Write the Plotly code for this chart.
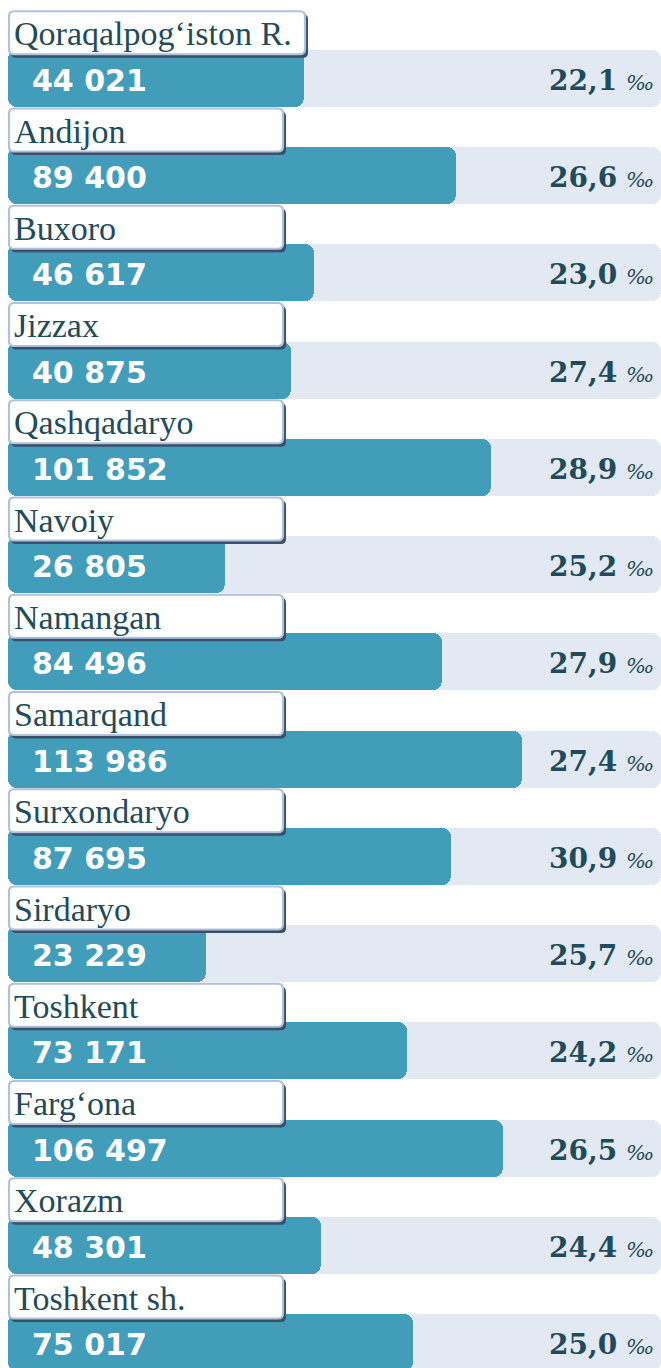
import numpy as np
import plotly.graph_objects as go

regions = ["Qoraqalpog‘iston R.", "Andijon", "Buxoro", "Jizzax", "Qashqadaryo", "Navoiy",
           "Namangan", "Samarqand", "Surxondaryo", "Sirdaryo", "Toshkent", "Farg‘ona",
           "Xorazm", "Toshkent sh."]
births = [44021, 89400, 46617, 40875, 101852, 26805, 84496, 113986, 87695, 23229,
          73171, 106497, 48301, 75017]
rate_permille = [22.1, 26.6, 23.0, 27.4, 28.9, 25.2, 27.9, 27.4, 30.9, 25.7, 24.2, 26.5, 24.4, 25.0]

W, H = 661, 1368
ML = 8
PW = W - ML
# bar lengths in the reference follow a square-root style scale
S0, S1 = 36.8, 418.9
sq = np.sqrt(np.array(births, dtype=float))

ROW = 97.25
C0 = 78.25
yr = [(H - C0) / ROW, -C0 / ROW]
n = len(regions)
ys = list(range(n))

TEAL = "#429dbb"
BG = "#e3e9f2"
DARK = "#1f4b5a"
BORDER = "#b0c1d8"
SHADOW = "#38506c"

fig = go.Figure()
fig.add_trace(go.Bar(y=ys, x=[S1 - S0] * n, base=S0, orientation="h", width=57 / ROW,
                     marker=dict(color=BG, line=dict(width=0), cornerradius=9),
                     hoverinfo="skip", showlegend=False))
fig.add_trace(go.Bar(y=ys, x=sq - S0, base=S0, orientation="h", width=57 / ROW,
                     marker=dict(color=TEAL, line=dict(width=0), cornerradius=9),
                     hoverinfo="skip", showlegend=False))


def rrect(x0, x1, y0, y1, rx, ry):
    return (f"M{x0+rx},{y0} L{x1-rx},{y0} Q{x1},{y0} {x1},{y0+ry} "
            f"L{x1},{y1-ry} Q{x1},{y1} {x1-rx},{y1} L{x0+rx},{y1} "
            f"Q{x0},{y1} {x0},{y1-ry} L{x0},{y0+ry} Q{x0},{y0} {x0+rx},{y0} Z")


def px2paper(p):
    return (p - ML) / PW


shapes = []
annotations = []
for i, lab in enumerate(regions):
    right = 305 if len(lab) > 14 else 283
    top = i + (-67) / ROW
    bot = i + (-24) / ROW
    rx, ry = 5 / PW, 5 / ROW
    # shadow
    shapes.append(dict(type="path", xref="paper", yref="y",
                       path=rrect(px2paper(11), px2paper(right + 3), top + 3 / ROW, bot + 3.5 / ROW, rx, ry),
                       fillcolor=SHADOW, line=dict(width=0), layer="above"))
    shapes.append(dict(type="path", xref="paper", yref="y",
                       path=rrect(px2paper(9), px2paper(right), top, bot, rx, ry),
                       fillcolor="white", line=dict(color=BORDER, width=2.2), layer="above"))
    annotations.append(dict(xref="paper", yref="y", x=px2paper(12), y=(top + bot) / 2 + 1 / ROW,
                            text=lab, showarrow=False, xanchor="left", yanchor="middle",
                            font=dict(family="Liberation Serif", size=34, color=DARK)))
    annotations.append(dict(xref="paper", yref="y", x=px2paper(30), y=i + 2 / ROW,
                            text=f"<b>{births[i]:,}</b>".replace(",", " "), showarrow=False,
                            xanchor="left", yanchor="middle",
                            font=dict(family="DejaVu Sans", size=30, color="white")))
    annotations.append(dict(xref="paper", yref="y", x=px2paper(656), y=i + 2 / ROW,
                            text=f"<b>{rate_permille[i]:.1f}</b>".replace(".", ",")
                                 + " <i><span style='font-size:21px'>‰</span></i>",
                            showarrow=False, xanchor="right", yanchor="middle",
                            font=dict(family="DejaVu Serif", size=28, color=DARK)))

fig.update_layout(
    width=W, height=H, margin=dict(l=ML, r=0, t=0, b=0),
    paper_bgcolor="white", plot_bgcolor="white",
    barmode="overlay", bargap=0,
    xaxis=dict(range=[S0, S1], visible=False, fixedrange=True),
    yaxis=dict(range=yr, visible=False, fixedrange=True),
    shapes=shapes, annotations=annotations,
)

fig.write_html("out.html", config={"displayModeBar": False})
with open("out.html", encoding="utf-8") as f:
    html = f.read()
html = html.replace("<head>", "<head><style>html,body{margin:0;padding:0;overflow:hidden}</style>", 1)
with open("out.html", "w", encoding="utf-8") as f:
    f.write(html)
